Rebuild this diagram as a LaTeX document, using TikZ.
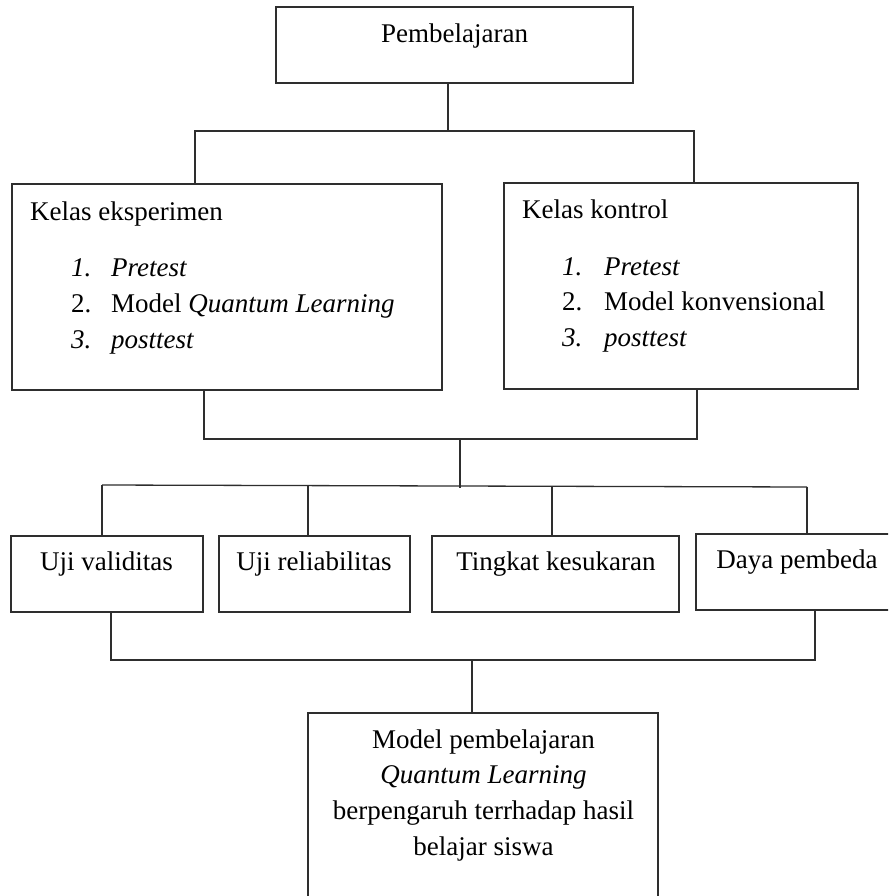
\documentclass[tikz,border=0pt]{standalone}
\usepackage{fontspec}
\setmainfont{Liberation Serif}
\definecolor{linec}{HTML}{2E2E2E}
\begin{document}
\begin{tikzpicture}[x=1pt,y=-1pt,
  boxstyle/.style={draw=linec,line width=1.3pt,rectangle,inner sep=0pt},
  conn/.style={draw=linec,line width=1.3pt},
  txt/.style={inner sep=0pt,font=\fontsize{27}{32}\selectfont},
  txtl/.style={txt,anchor=base west},
  txtc/.style={txt,anchor=base}]
\clip (0,0) rectangle (888,896);
\fill[white] (0,0) rectangle (888,896);
% boxes
\node[boxstyle,minimum width=357pt,minimum height=76pt] (top) at (454.5,45) {};
\node[boxstyle,minimum width=430pt,minimum height=206pt] (left) at (227,287) {};
\node[boxstyle,minimum width=354pt,minimum height=206pt] (right) at (681,286) {};
\node[boxstyle,minimum width=192pt,minimum height=76pt] (b1) at (107,574) {};
\node[boxstyle,minimum width=191pt,minimum height=76pt] (b2) at (314.5,574) {};
\node[boxstyle,minimum width=247pt,minimum height=76pt] (b3) at (555.5,574) {};
\node[boxstyle,minimum width=204pt,minimum height=76pt] (b4) at (798,572) {};
\node[boxstyle,minimum width=350pt,minimum height=217pt] (bottom) at (483,821.5) {};
% junction coordinates
\coordinate (j0) at (448,131);
\coordinate (jL) at (195,131);
\coordinate (jR) at (694,131);
\coordinate (kL) at (204,439);
\coordinate (kR) at (697,439);
\coordinate (k0) at (460,439);
\coordinate (m0) at (460,488);
\coordinate (m1) at (102,485);
\coordinate (m2) at (308,486);
\coordinate (m3) at (552,486);
\coordinate (m4) at (807,487);
\coordinate (n1) at (111,660);
\coordinate (n2) at (815,660);
\coordinate (n0) at (472,660);
% connectors
\draw[conn] (top.south -| j0) -- (j0);
\draw[conn] (left.north -| jL) -- (jL) -- (jR) -- (right.north -| jR);
\draw[conn] (left.south -| kL) -- (kL) -- (kR) -- (right.south -| kR);
\draw[conn] (k0) -- (m0);
\draw[conn] (m1) -- (m4);
\draw[conn] (m1) -- (b1.north -| m1);
\draw[conn] (m2) -- (b2.north -| m2);
\draw[conn] (m3) -- (b3.north -| m3);
\draw[conn] (m4) -- (b4.north -| m4);
\draw[conn] (b1.south -| n1) -- (n1) -- (n2) -- (b4.south -| n2);
\draw[conn] (n0) -- (bottom.north -| n0);
% texts
\node[txtc] (ttop) at (454.5,42.5) {Pembelajaran};
\node[txtl] (tle) at (30,220) {Kelas eksperimen};
\node[txtl] (le1n) at (71,276) {\textit{1.}};
\node[txtl] (le1) at (111,276) {\textit{Pretest}};
\node[txtl] (le2n) at (71,312) {2.};
\node[txtl] (le2) at (111,312) {Model \textit{Quantum Learning}};
\node[txtl] (le3n) at (71,348) {\textit{3.}};
\node[txtl] (le3) at (111,348) {\textit{posttest}};
\node[txtl] (tri) at (522,218) {Kelas kontrol};
\node[txtl] (ri1n) at (562,275) {\textit{1.}};
\node[txtl] (ri1) at (604,275) {\textit{Pretest}};
\node[txtl] (ri2n) at (562,310.5) {2.};
\node[txtl] (ri2) at (604,310.5) {Model konvensional};
\node[txtl] (ri3n) at (562,346.5) {\textit{3.}};
\node[txtl] (ri3) at (604,346.5) {\textit{posttest}};
\node[txtc] (tb1) at (106.5,570) {Uji validitas};
\node[txtc] (tb2) at (314,570) {Uji reliabilitas};
\node[txtc] (tb3) at (556,570) {Tingkat kesukaran};
\node[txtc] (tb4) at (797,568) {Daya pembeda};
\node[txtc] (tbo1) at (483.5,748) {Model pembelajaran};
\node[txtc] (tbo2) at (483.5,783.5) {\textit{Quantum Learning}};
\node[txtc] (tbo3) at (483.5,819) {berpengaruh terrhadap hasil};
\node[txtc] (tbo4) at (483.5,855) {belajar siswa};
\end{tikzpicture}
\end{document}
